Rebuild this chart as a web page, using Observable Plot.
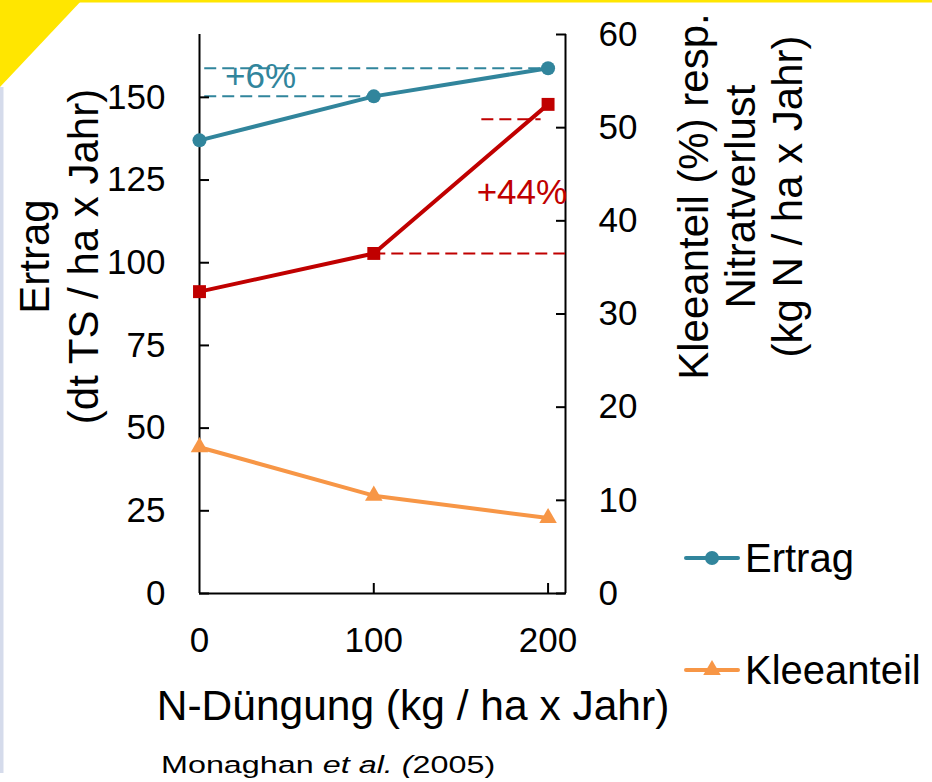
<!DOCTYPE html>
<html><head><meta charset="utf-8">
<script src="https://cdn.jsdelivr.net/npm/d3@7"></script>
<script src="https://cdn.jsdelivr.net/npm/@observablehq/plot@0.6"></script>
<style>
html,body{margin:0;padding:0;background:#fff;}
#chart{position:relative;width:932px;height:782px;overflow:hidden;}
#chart svg{display:block;position:absolute;left:0;top:0;}
</style></head><body><div id="chart"></div>
<script>
// ---- data ----
const nDose = [0, 100, 200];
const ertrag = [137, 150.3, 158.8];      // dt TS / ha x Jahr (left axis)
const nitrat = [32.4, 36.5, 52.5];       // kg N / ha x Jahr (right axis)
const klee = [15.7, 10.5, 8.1];          // % (right axis)
const xTicks = [0, 100, 200];
const xInnerTicks = [100, 200];
const leftTicks = [0, 25, 50, 75, 100, 125, 150];
const rightTicks = [0, 10, 20, 30, 40, 50, 60];
const xMax = 210, leftMax = 169, rightMax = 60;
const tealRefs = [{v: 158.8, x1: 3, x2: 200}, {v: 150.3, x1: 3, x2: 100}];
const redRefs = [{v: 36.5, x1: 100, x2: 210}, {v: 50.9, x1: 162, x2: 196}];
const tealNotes = [{x: 35, v: 152.7, label: "+6%"}];
const redNotes = [{x: 185, v: 41.8, label: "+44%"}];
const leftTitle = ["Ertrag", "(dt TS / ha x Jahr)"];
const rightTitle = ["Kleeanteil (%) resp.", "Nitratverlust", "(kg N / ha x Jahr)"];
const xTitle = ["N-Düngung (kg / ha x Jahr)"];
const legendLabels = ["Ertrag", "Kleeanteil"];

const TEAL = "#31859C", RED = "#C00000", ORANGE = "#F79646";
const ertragRows = nDose.map((n, i) => ({n, v: ertrag[i]}));
const nitratRows = nDose.map((n, i) => ({n, v: nitrat[i]}));
const kleeRows = nDose.map((n, i) => ({n, v: klee[i]}));
const FONT = "'Liberation Sans', Arial, Helvetica, sans-serif";

const frame = {
  width: 932, height: 782,
  marginLeft: 199, marginRight: 367, marginTop: 34, marginBottom: 189
};
const baseStyle = {fontFamily: FONT, fontSize: "35px", color: "#000", background: "transparent", overflow: "visible"};

// Left-axis chart (Ertrag) with x axis and titles
const plotA = Plot.plot({
  ...frame,
  x: {domain: [0, xMax]},
  y: {domain: [0, leftMax]},
  style: baseStyle,
  marks: [
    Plot.ruleY(tealRefs, {y: "v", x1: "x1", x2: "x2", stroke: TEAL, strokeWidth: 2, strokeDasharray: "12,6"}),
    Plot.axisY(leftTicks, {anchor: "left", tickSize: -10, tickPadding: 44, strokeWidth: 2, fontSize: 35, label: null}),
    Plot.axisX(xTicks, {anchor: "bottom", tickSize: 0, tickPadding: 34, fontSize: 35, label: null}),
    Plot.axisX(xInnerTicks, {anchor: "bottom", tickSize: -10, strokeWidth: 2, tickFormat: () => "", label: null}),
    Plot.ruleX([0], {stroke: "#000", strokeWidth: 2}),
    Plot.ruleX([xMax], {stroke: "#000", strokeWidth: 2}),
    Plot.ruleY([0], {stroke: "#000", strokeWidth: 2}),
    Plot.text([leftTitle.join("\n")], {text: d => d, frameAnchor: "left", dx: -102, dy: -57.5, rotate: -90, textAnchor: "middle", lineAnchor: "bottom", lineHeight: 49/42, fontSize: 42}),
    Plot.text([rightTitle.join("\n")], {text: d => d, frameAnchor: "right", dx: 236, dy: -117.5, rotate: -90, textAnchor: "middle", lineAnchor: "bottom", lineHeight: 47/42, fontSize: 42}),
    Plot.text(xTitle, {text: d => d, frameAnchor: "bottom", dx: 30.5, dy: 126, textAnchor: "middle", lineAnchor: "bottom", fontSize: 42.5}),
    Plot.text(tealNotes, {x: "x", y: "v", text: "label", fill: TEAL, fontSize: 35, textAnchor: "middle", lineAnchor: "bottom"}),
    Plot.line(ertragRows, {x: "n", y: "v", stroke: TEAL, strokeWidth: 4}),
    Plot.dot(ertragRows, {x: "n", y: "v", r: 7, fill: TEAL, symbol: "circle"})
  ]
});

// Right-axis chart (Kleeanteil, Nitratverlust), same frame, overlaid
const plotB = Plot.plot({
  ...frame,
  x: {domain: [0, xMax], axis: null},
  y: {domain: [0, rightMax]},
  style: baseStyle,
  marks: [
    Plot.ruleY(redRefs, {y: "v", x1: "x1", x2: "x2", stroke: RED, strokeWidth: 2, strokeDasharray: "12,6"}),
    Plot.axisY(rightTicks, {anchor: "right", tickSize: -10, tickPadding: 43, strokeWidth: 2, fontSize: 35, label: null}),
    Plot.text(redNotes, {x: "x", y: "v", text: "label", fill: RED, fontSize: 35, textAnchor: "middle", lineAnchor: "bottom"}),
    Plot.line(nitratRows, {x: "n", y: "v", stroke: RED, strokeWidth: 4}),
    Plot.line(kleeRows, {x: "n", y: "v", stroke: ORANGE, strokeWidth: 4}),
    Plot.dot(nitratRows, {x: "n", y: "v", r: 7.3, fill: RED, symbol: "square"}),
    Plot.dot(kleeRows, {x: "n", y: "v", r: 6.5, fill: ORANGE, symbol: "triangle"})
  ]
});
const chart = document.getElementById("chart");
chart.appendChild(plotA);
chart.appendChild(plotB);

// ---- decorations, legend, caption ----
const svg = d3.select(plotA);
const deco = svg.insert("g", ":first-child");
deco.append("polygon").attr("points", "0,0 82,0 0,87").attr("fill", "#FFE600");
deco.append("rect").attr("x", 0).attr("y", 0).attr("width", 932).attr("height", 2.5).attr("fill", "#FFE600");
deco.append("rect").attr("x", 0).attr("y", 87).attr("width", 3.5).attr("height", 686).attr("fill", "#D5DBEB");

const legendDefs = [
  {label: legendLabels[0], color: TEAL, symbol: d3.symbolCircle, r: 7, y: 558},
  {label: legendLabels[1], color: ORANGE, symbol: d3.symbolTriangle, r: 6.5, y: 670}
];
const lg = svg.append("g").attr("font-family", FONT).attr("text-anchor", "start");
legendDefs.forEach(d => {
  lg.append("line").attr("x1", 686).attr("x2", 738).attr("y1", d.y).attr("y2", d.y)
    .attr("stroke", d.color).attr("stroke-width", 4).attr("stroke-linecap", "round");
  lg.append("path").attr("d", d3.symbol(d.symbol, d.r * d.r * Math.PI)())
    .attr("transform", `translate(712,${d.y})`).attr("fill", d.color);
  lg.append("text").attr("x", 745).attr("y", d.y + 14).attr("font-size", 40).attr("fill", "#000")
    .attr("text-anchor", "start").text(d.label);
});

const cap = svg.append("text").attr("font-family", FONT).attr("font-size", 24.5).attr("fill", "#000")
  .attr("text-anchor", "start")
  .attr("transform", "translate(161,773) scale(1.32,1)");
cap.append("tspan").text("Monaghan ");
cap.append("tspan").attr("font-style", "italic").text("et al. (");
cap.append("tspan").text("2005)");
</script>
</body></html>
